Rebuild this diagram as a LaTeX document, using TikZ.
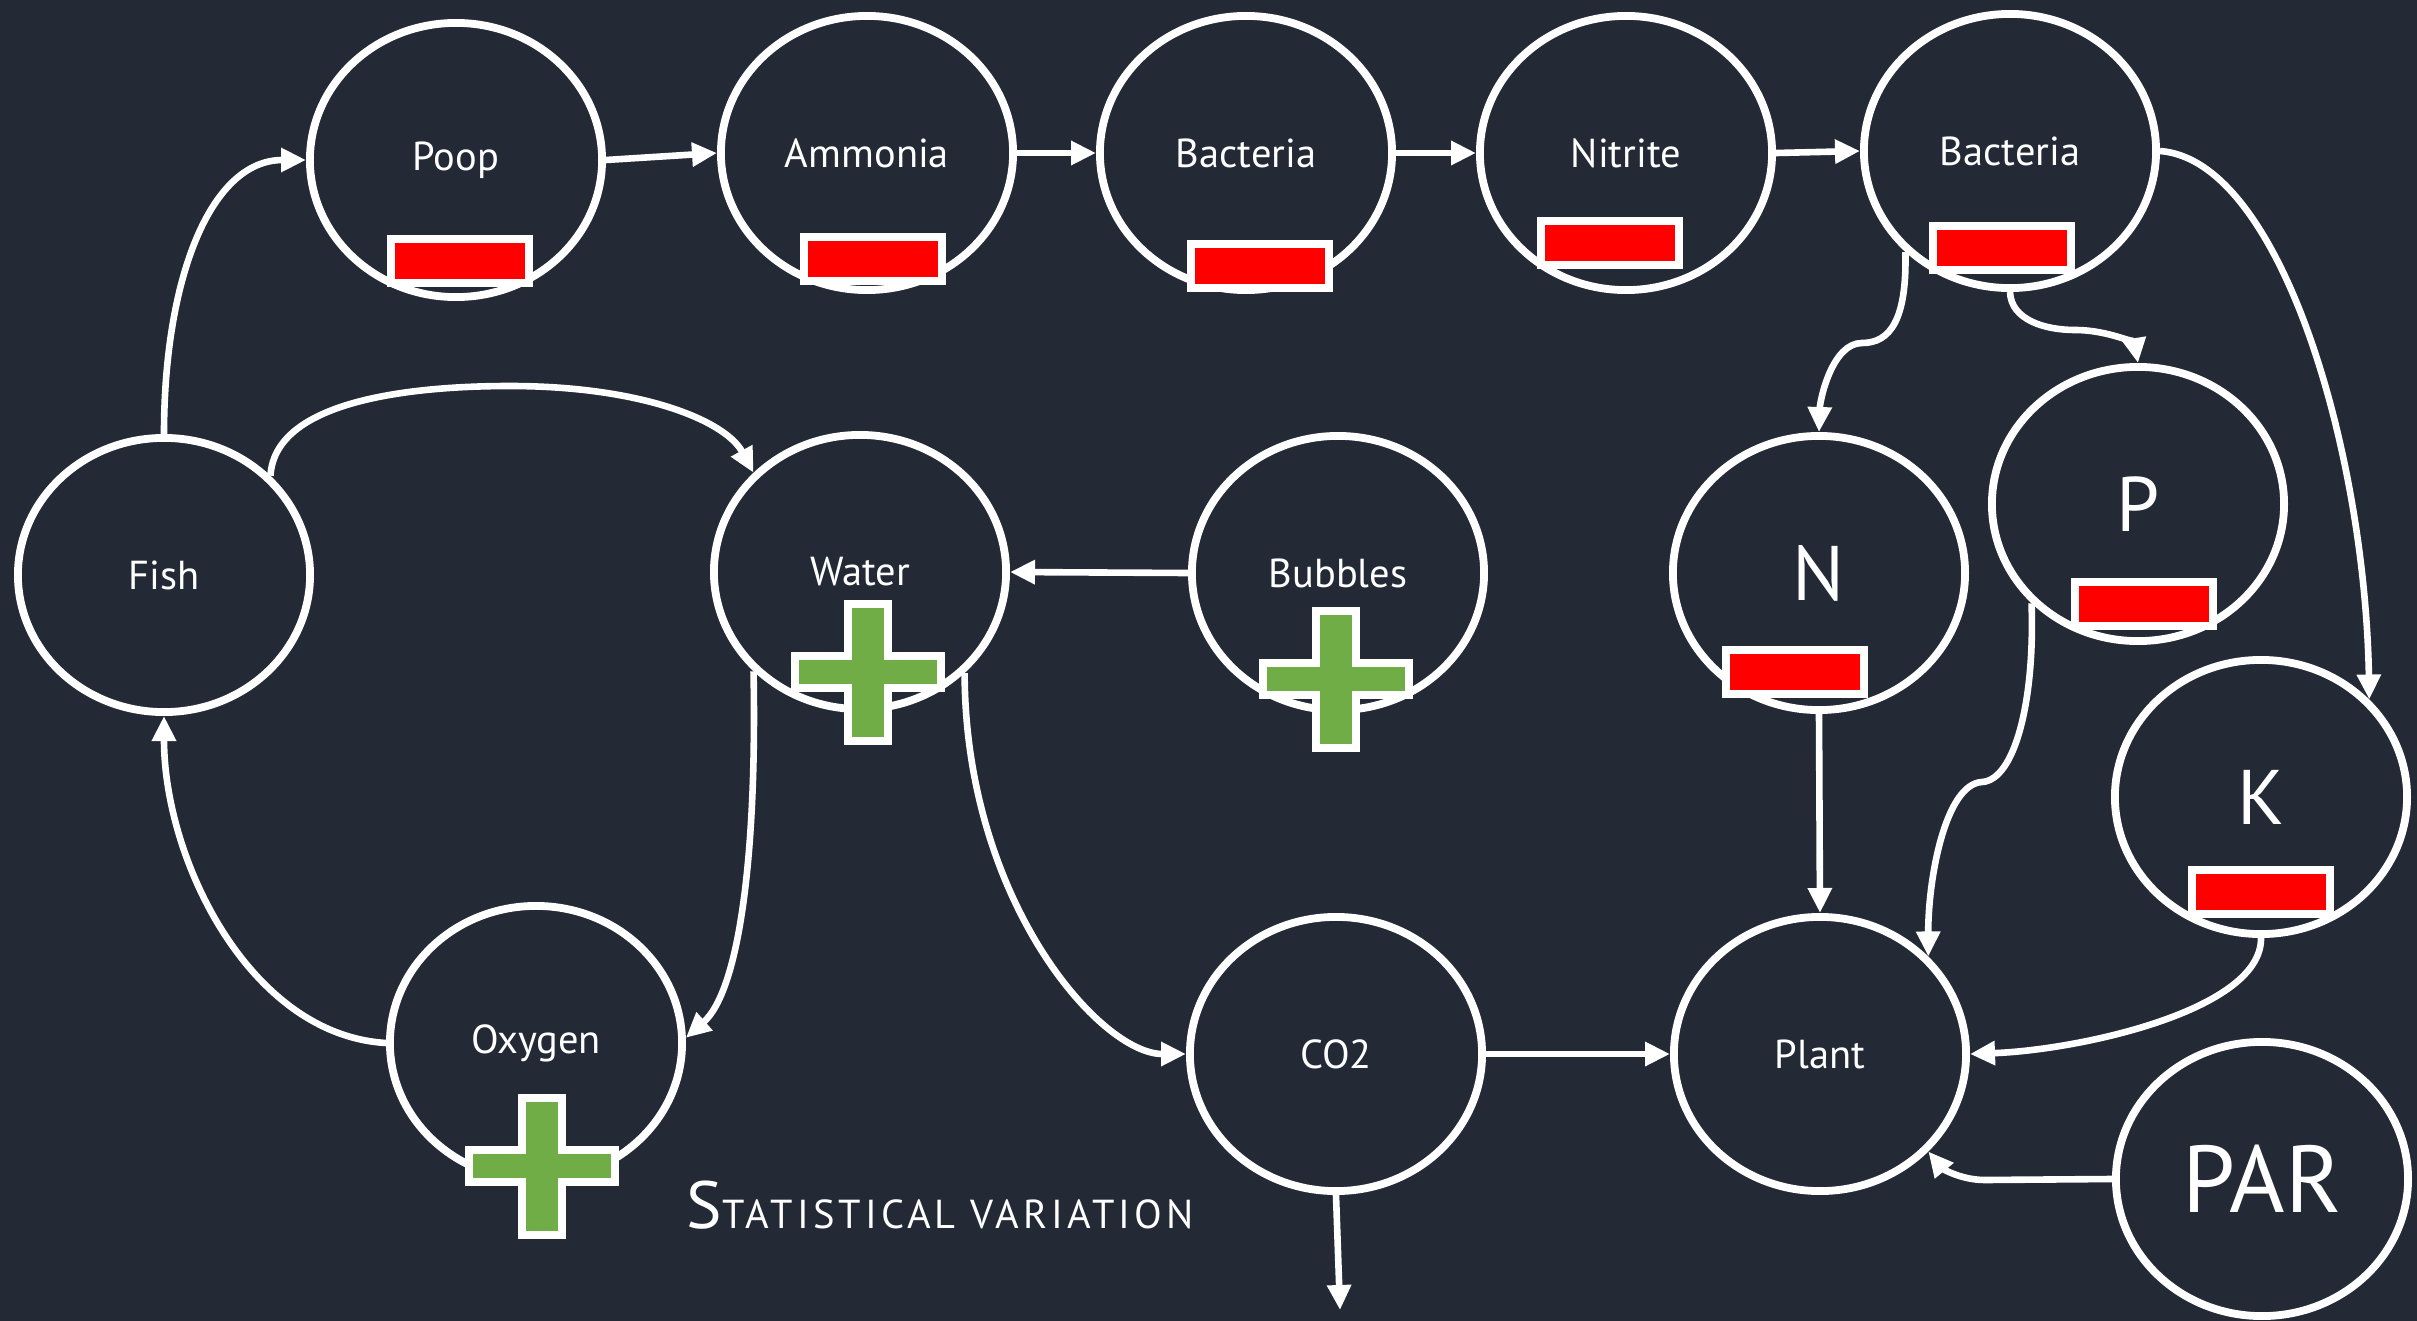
\documentclass[tikz,border=0pt]{standalone}
\usepackage{fontspec}
\setmainfont{PT Sans}
\newfontfamily\capsfont[LetterSpace=10]{PT Sans}
\usetikzlibrary{shapes.geometric,arrows.meta}

\definecolor{bgcol}{HTML}{232A36}
\definecolor{minusred}{HTML}{FF0000}
\definecolor{plusgreen}{HTML}{70AD47}

\tikzset{
  bubble/.style={ellipse, draw=white, line width=0.078cm,
    minimum width=2.92cm, minimum height=2.74cm, inner sep=0pt,
    text=white, font=\fontsize{11.5}{14}\selectfont},
  bigbubble/.style={bubble, font=\fontsize{22}{26}\selectfont},
  conn/.style={draw=white, line width=0.066cm,
    -{Triangle[length=0.25cm,width=0.23cm]}},
  minusbox/.style={rectangle, draw=white, fill=minusred, line width=0.08cm,
    minimum width=1.37cm, minimum height=0.44cm, inner sep=0pt},
  plussign/.pic={
    \draw[draw=white, fill=plusgreen, line width=0.08cm]
      (-20,-68.5) -- (20,-68.5) -- (20,-16) -- (73,-16) -- (73,16)
      -- (20,16) -- (20,68.5) -- (-20,68.5) -- (-20,16) -- (-73,16)
      -- (-73,-16) -- (-20,-16) -- cycle;
  }
}

\begin{document}
\begin{tikzpicture}[x=0.01cm, y=-0.01cm]
  % canvas
  \fill[bgcol] (0,0) rectangle (2417,1321);
  \useasboundingbox (0,0) rectangle (2417,1321);

  % quantities
  \node[bubble] (fish)     at (164,575)   {Fish};
  \node[bubble] (poop)     at (456,160)   {Poop};
  \node[bubble] (ammonia)  at (867,153)   {Ammonia};
  \node[bubble] (bactA)    at (1246,153)  {Bacteria};
  \node[bubble] (nitrite)  at (1626,153)  {Nitrite};
  \node[bubble] (bactB)    at (2010,151)  {Bacteria};
  \node[bubble] (water)    at (860,572)   {Water};
  \node[bubble] (bubbles)  at (1338,573)  {Bubbles};
  \node[bigbubble] (nitro) at (1819,573)  {N};
  \node[bigbubble] (phos)  at (2138,504)  {P};
  \node[bigbubble] (kal)   at (2261,797)  {K};
  \node[bubble] (oxygen)   at (536,1043)  {Oxygen};
  \node[bubble] (cotwo)    at (1336,1054) {CO2};
  \node[bubble] (plant)    at (1820,1054) {Plant};
  \node[bubble, font=\fontsize{27}{30}\selectfont] (par) at (2262,1179) {PAR};

  \coordinate (cotwoout) at (1340,1310);

  % flows
  \draw[conn] (fish.north) .. controls (164,280) and (210,160) .. (poop.west);
  \draw[conn] (poop.east) -- (ammonia.west);
  \draw[conn] (ammonia.east) -- (bactA.west);
  \draw[conn] (bactA.east) -- (nitrite.west);
  \draw[conn] (nitrite.east) -- (bactB.west);
  \draw[conn] (bactB.east) .. controls (2280,160) and (2365,450) .. (kal.42);
  \draw[conn] (bactB.-136) .. controls (1907,320) and (1890,343) .. (1862,343)
              .. controls (1832,343) and (1820,400) .. (nitro.north);
  \draw[conn] (bactB.south) .. controls (2011,320) and (2045,330) .. (2075,330)
              .. controls (2110,330) and (2135,345) .. (phos.north);
  \draw[conn] (nitro.south) -- (plant.north);
  \draw[conn] (phos.-137) .. controls (2035,700) and (2015,780) .. (1982,782)
              .. controls (1945,784) and (1928,880) .. (plant.42);
  \draw[conn] (kal.south) .. controls (2262,1010) and (2080,1050) .. (plant.east);
  \draw[conn] (par.west) -- (1985,1180)
              .. controls (1960,1180) and (1942,1168) .. (plant.-42);
  \draw[conn] (cotwo.east) -- (plant.west);
  \draw[conn] (cotwo.south) -- (cotwoout);
  \draw[conn] (bubbles.west) -- (water.east);
  \draw[conn] (fish.43) .. controls (275,398) and (420,386) .. (510,386)
              .. controls (640,386) and (725,420) .. (water.137);
  \draw[conn] (water.-137) .. controls (757,850) and (740,990) .. (oxygen.2);
  \draw[conn] (water.-44) .. controls (965,900) and (1100,1054) .. (cotwo.west);
  \draw[conn] (oxygen.west) .. controls (250,1035) and (164,860) .. (fish.south);

  % decreasing quantities
  \node[minusbox] (poopminus)    at (460,261)  {};
  \node[minusbox] (ammoniaminus) at (873,259)  {};
  \node[minusbox] (bactAminus)   at (1260,266) {};
  \node[minusbox] (nitriteminus) at (1610,243) {};
  \node[minusbox] (bactBminus)   at (2002,248) {};
  \node[minusbox] (nitrominus)   at (1795,672) {};
  \node[minusbox] (phosminus)    at (2144,604) {};
  \node[minusbox] (kalminus)     at (2261,892) {};

  % increasing quantities
  \pic at (868,672)  {plussign};
  \pic at (1336,679) {plussign};
  \pic at (542,1166) {plussign};

  % note
  \node[anchor=base west, text=white, inner sep=0pt] (statnote) at (686,1228)
    {\fontsize{19}{21}\selectfont S\capsfont\fontsize{11.5}{13}\selectfont TATISTICAL VARIATION};
\end{tikzpicture}
\end{document}
